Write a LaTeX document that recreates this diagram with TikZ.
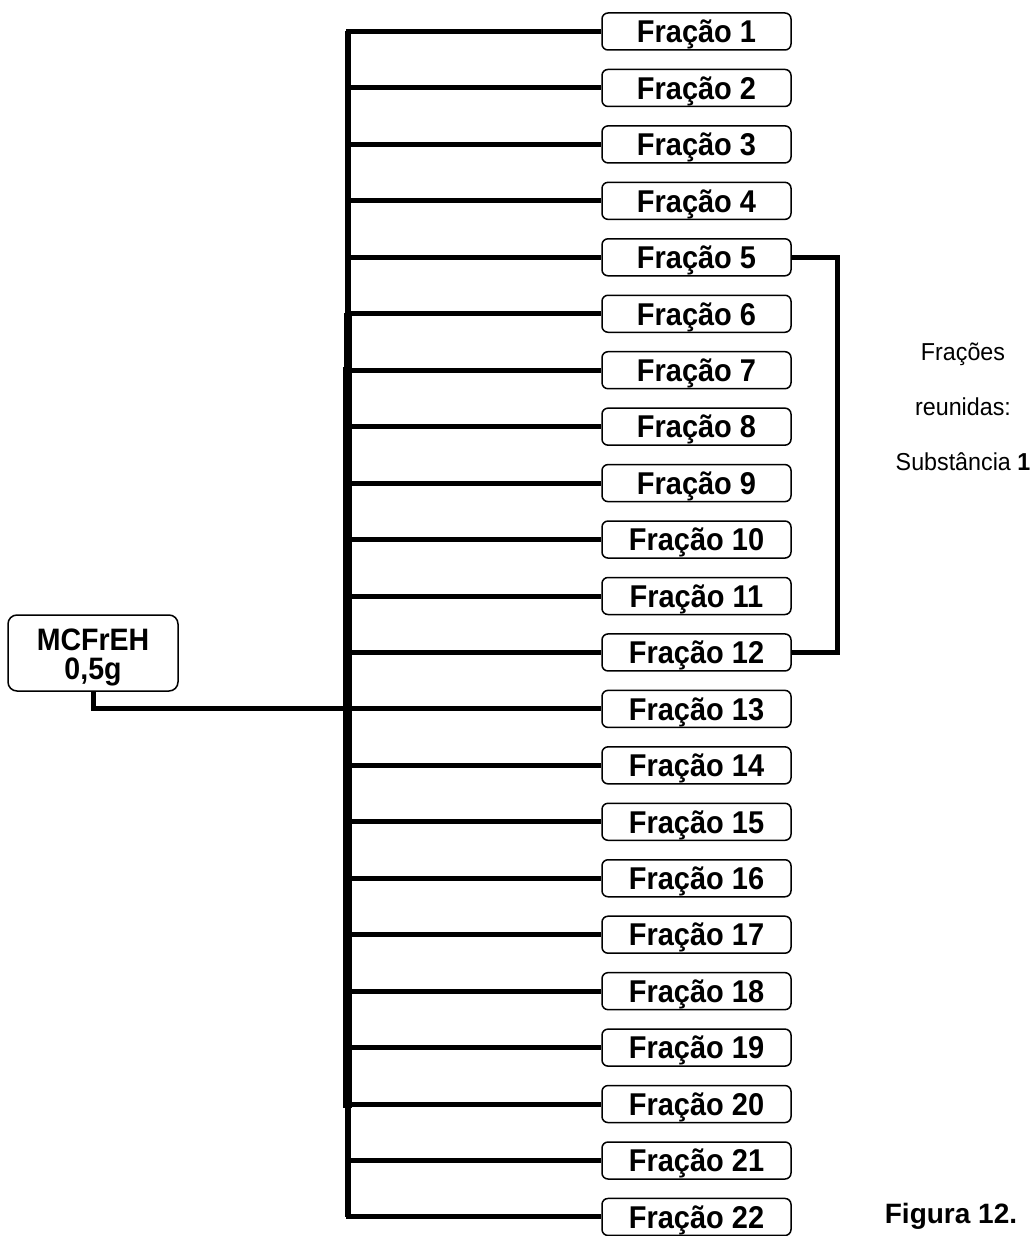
\documentclass[tikz,border=0pt]{standalone}
\usepackage{fontspec}
\setmainfont{Liberation Sans}
\newfontfamily\narrowA{Liberation Sans}[FakeStretch=0.92]
\newfontfamily\narrowB{Liberation Sans}[FakeStretch=0.95]
\begin{document}
\begin{tikzpicture}[x=1pt,y=-1pt,
  frac/.style={draw, line width=1.5pt, rounded corners=6pt, minimum width=189pt,
    minimum height=37pt, inner sep=0pt, text height=22.5pt, text depth=0pt,
    font=\fontsize{31.5}{32}\narrowA\bfseries},
  conn/.style={line width=5pt, line join=miter},
  note/.style={inner sep=0pt, text height=17.5pt, text depth=0pt,
    font=\fontsize{24.5}{26}\narrowB}]
\useasboundingbox (0,0) rectangle (1035,1236);
\foreach \i in {1,...,22} {
  \node[frac] (f\i) at (696.5, {31.5+(\i-1)*56.45}) {Fração \i};
  \coordinate (t\i) at (348, {31.5+(\i-1)*56.45});
}
% trunk
\draw[conn] (f1.west) -- (t1) -- (t22) -- (f22.west);
\draw[line width=6pt] (t1) -- (t22);
\coordinate (ta) at (347.5,313);
\coordinate (tb) at (347.5,1108);
\coordinate (tc) at (347.5,367);
\draw[line width=8pt] (ta) -- (tb);
\draw[line width=9pt] (tc) -- (tb);
\foreach \i in {2,...,21} {
  \draw[conn] (t\i) -- (f\i.west);
}
% source
\node[draw, line width=1.5pt, rounded corners=9pt, minimum width=170pt,
  minimum height=76pt, inner sep=0pt, align=center,
  font=\fontsize{31}{29}\narrowA\bfseries] (m) at (93,653)
  {\rule{0pt}{29.9pt}MCFrEH\\0,5g};
\draw[conn] (m.south) |- (t13);
% bracket
\coordinate (b) at (837,0);
\draw[conn] (f5.east) -- (f5.east -| b) -- (f12.east -| b) -- (f12.east);
\node[note] (n1) at (963,352) {Frações};
\node[note] (n2) at (963,407) {reunidas:};
\node[note] (n3) at (963,462) {Substância \textbf{1}};
\node[inner sep=0pt, text height=20pt, text depth=0pt,
  font=\fontsize{28}{30}\selectfont\bfseries] (fig) at (951,1213) {Figura 12.};
\end{tikzpicture}
\end{document}
